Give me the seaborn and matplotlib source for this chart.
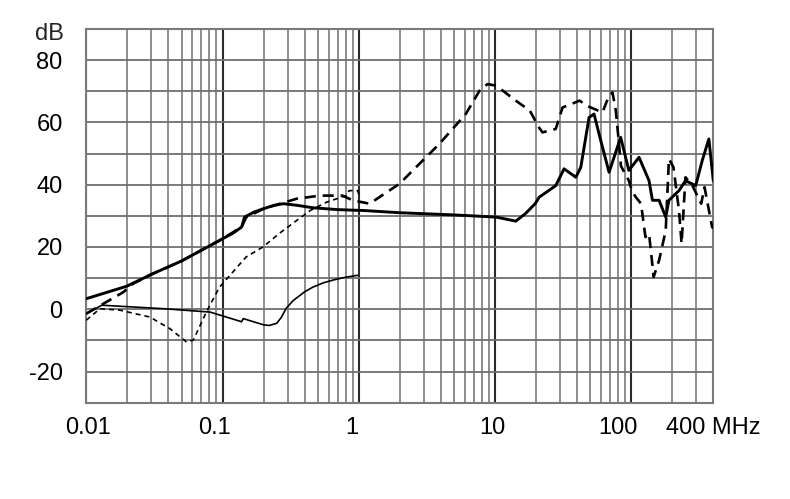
import numpy as np
import pandas as pd
import matplotlib
matplotlib.use("Agg")
import matplotlib.pyplot as plt
from matplotlib.ticker import FixedLocator, FixedFormatter, FuncFormatter
from matplotlib.transforms import ScaledTranslation
import seaborn as sns

# ---------------- data ----------------
# thick solid
f_a = [0.01, 0.0198, 0.03, 0.05, 0.095, 0.12, 0.138, 0.145, 0.17, 0.2, 0.24, 0.28, 0.35, 0.46, 0.7, 1.1, 2, 5,
       10.2, 14.2, 16.7, 19.7, 21.1, 27.9, 32.1, 39.2, 42.6, 49, 53.3, 58, 68.7, 83.6, 96,
       114, 135, 143, 160, 179, 189, 224, 250, 297, 332, 371, 400]
db_a = [3.4, 7.4, 11.2, 15.5, 22.1, 24.5, 26.4, 29.6, 31.2, 32.3, 33.4, 33.9, 33.4, 32.6, 32.0, 31.7, 31.0, 30.3,
        29.6, 28.3, 30.7, 33.9, 36.0, 39.7, 45.1, 42.4, 45.6, 61.6, 62.7, 56.3, 44.0, 55.2, 44.6,
        48.8, 41.3, 35.0, 35.0, 29.6, 35.0, 38.1, 41.3, 39.7, 47.8, 54.7, 41.3]

# long dashed
f_b = [0.01, 0.0187, 0.022, 0.03, 0.05, 0.095, 0.138, 0.149, 0.2, 0.35, 0.52, 0.76, 0.9, 1.2,
       1.99, 3.9, 6.1, 7.7, 8.8, 10.2, 14.2, 18, 21, 22.3, 27.9, 31.3, 41.8, 46.9, 61.4, 68.7,
       72.8, 77, 81.3, 84, 96, 101, 108, 118, 127, 135, 146, 160, 179, 189, 204, 224, 234,
       250, 281, 326, 345, 392, 400]
db_b = [-1.4, 5.5, 8.2, 11.2, 15.5, 22.1, 26.4, 29.5, 32.3, 35.5, 36.5, 36.5, 35.0, 33.9,
        40.3, 53.1, 62.7, 70.2, 72.3, 71.8, 67.0, 63.8, 58.4, 56.8, 57.9, 64.8, 67.0, 65.4, 63.2, 68.6,
        69.6, 63.8, 53.1, 46.0, 41.3, 38.1, 36.0, 33.9, 23.2, 24.3, 10.4, 15.7, 25.3, 48.3, 45.6, 31.7, 21.1,
        42.4, 39.7, 33.9, 39.2, 26.4, 26.0]

# thin solid
f_c = [0.01, 0.013, 0.0366, 0.081, 0.138, 0.142, 0.2, 0.22, 0.25, 0.27, 0.293, 0.33, 0.4, 0.46, 0.55, 0.65, 0.8, 0.98]
db_c = [-1.4, 1.3, 0.2, -0.9, -4.0, -3.0, -5.0, -5.2, -4.5, -2.6, 0.3, 2.8, 5.6, 7.1, 8.5, 9.4, 10.3, 10.9]

# short dashed
f_d = [0.01, 0.0126, 0.0177, 0.0293, 0.041, 0.0544, 0.061, 0.076, 0.095, 0.149, 0.198,
       0.26, 0.35, 0.44, 0.58, 0.81, 0.85, 0.98, 1.02]
db_d = [-3.5, 0.2, -0.3, -2.5, -6.2, -10.5, -9.9, -0.9, 7.1, 16.8, 20.0,
        24.3, 28.5, 31.7, 34.4, 36.5, 38.1, 38.1, 36.0]

x_major = [0.01, 0.1, 1, 10, 100]
x_major_labels = ["0.01", "0.1", "1", "10", "100"]
x_unit_label = "400 MHz"
y_labels = [-20, 0, 20, 40, 60, 80]

# ---------------- style ----------------
sns.set_theme(style="white")
plt.rcParams['font.family'] = ['Liberation Sans', 'DejaVu Sans']
FS = 17

fig = plt.figure(figsize=(7.9, 4.99), dpi=100)
ax = fig.add_axes([86.3 / 790, 1 - 402.7 / 499, (713.3 - 86.3) / 790, (402.7 - 29) / 499])

series = [
    (f_a, db_a, dict(lw=2.1, linestyle='-')),
    (f_b, db_b, dict(lw=1.9, linestyle=(0, (4.2, 2.6)))),
    (f_c, db_c, dict(lw=1.2, linestyle='-')),
    (f_d, db_d, dict(lw=1.2, linestyle=(0, (3.0, 2.4)))),
]
for f, db, kw in series:
    df = pd.DataFrame({"f": f, "dB": db})
    sns.lineplot(data=df, x="f", y="dB", ax=ax, color="black", estimator=None,
                 sort=False, zorder=3, **kw)

ax.set_xscale("log")
ax.set_xlim(0.01, 400)
ax.set_ylim(-30, 90)
ax.set_xlabel("")
ax.set_ylabel("")

# x ticks
ax.xaxis.set_major_locator(FixedLocator(x_major))
ax.xaxis.set_major_formatter(FixedFormatter(x_major_labels))
minor_locs = []
for dec in [0.01, 0.1, 1, 10, 100]:
    for m in range(2, 10):
        v = dec * m
        if v <= 400 * 1.0001:
            minor_locs.append(v)
ax.xaxis.set_minor_locator(FixedLocator(minor_locs))
ax.xaxis.set_minor_formatter(FuncFormatter(lambda v, p: x_unit_label if abs(v - 400) < 1 else ""))

# y ticks
ax.yaxis.set_major_locator(FixedLocator(list(range(-30, 91, 10))))
ax.yaxis.set_major_formatter(FuncFormatter(lambda v, p: f"{int(round(v))}" if int(round(v)) in y_labels else ""))

ax.tick_params(axis='both', which='both', length=0, labelsize=FS, colors='black')
ax.tick_params(axis='x', which='both', pad=10)
ax.tick_params(axis='y', which='both', pad=17)

ax.set_axisbelow(True)
ax.xaxis.grid(True, which='major', color='#2a2a2a', lw=1.5)
ax.xaxis.grid(True, which='minor', color='#7a7a7a', lw=1.2)
ax.yaxis.grid(True, which='major', color='#6e6e6e', lw=1.3)
for s in ax.spines.values():
    s.set_visible(True)
    s.set_color('#7a7a7a')
    s.set_linewidth(1.5)

# dB unit label
fig.text(64 / 790, 1 - 34.5 / 499, "dB", ha='right', va='center', fontsize=FS)

# small horizontal shifts of the decade labels as in the reference
dxs = [2, -8.5, -6.5, -2.7, -13.5]
for lbl, dx in zip(ax.get_xticklabels(), dxs):
    lbl.set_transform(lbl.get_transform() + ScaledTranslation(dx / 100, 0, fig.dpi_scale_trans))

fig.savefig("out.png", dpi=100)
